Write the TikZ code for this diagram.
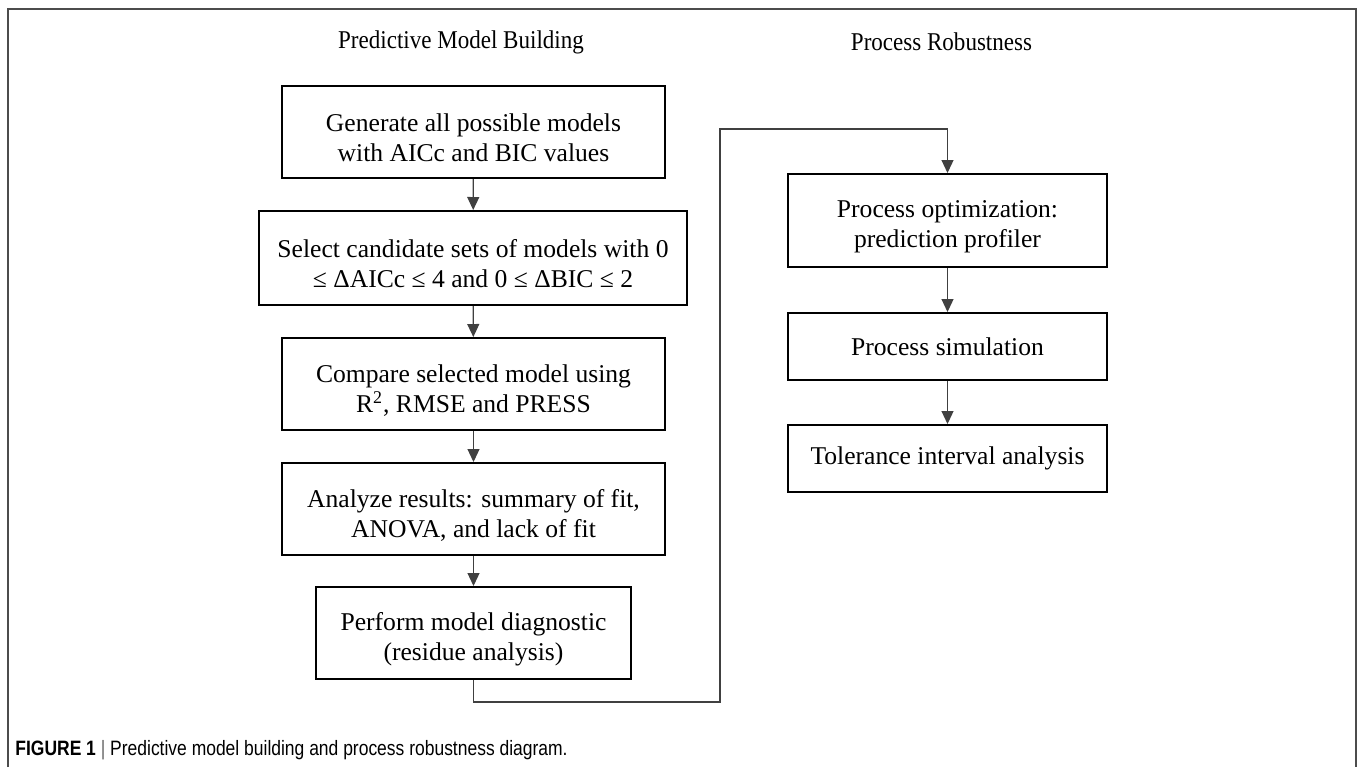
\documentclass[tikz,border=0pt]{standalone}
\usepackage{fontspec}
\setmainfont{Liberation Serif}
\newfontfamily\headfont[FakeStretch=0.9]{Liberation Serif}
\newfontfamily\capfont[FakeStretch=0.84]{Liberation Sans}
\usetikzlibrary{arrows.meta,positioning}
% pushes a two-line text a little down inside its box
\newcommand{\lowstrut}{\rule{0pt}{15pt}}

\begin{document}
\begin{tikzpicture}[x=0.5pt,y=-0.5pt,
  stepbox/.style={draw,line width=1pt,align=center,inner sep=0pt,
    font=\fontsize{12.8}{15}\selectfont},
  link/.style={draw=black!75,line width=0.6pt,-{Triangle[length=6.5pt,width=6pt]}},
  heading/.style={font=\headfont\fontsize{12.8}{15}\selectfont}]

\useasboundingbox (0,0) rectangle (1358,767);
% outer frame, open at the bottom
\draw[black!70,line width=1pt] (8,767) -- (8,9) -- (1356,9) -- (1356,767);

\node[heading] (headleft) at (461,42) {Predictive Model Building};
\node[heading] (headright) at (941.5,42) {Process Robustness};

% predictive model building
\node[stepbox,minimum width=191.5pt,minimum height=46pt] (gen) at (473.5,132)
  {\lowstrut Generate all possible models\\with AICc and BIC values};
\node[stepbox,minimum width=214pt,minimum height=47pt] (sel) at (473,258)
  {\lowstrut Select candidate sets of models with 0\\≤ ΔAICc ≤ 4 and 0 ≤ ΔBIC ≤ 2};
\node[stepbox,minimum width=191.5pt,minimum height=46pt] (cmp) at (473.5,384)
  {\lowstrut Compare selected model using\\R\textsuperscript{2}, RMSE and PRESS};
\node[stepbox,minimum width=191.5pt,minimum height=46pt] (ana) at (473.5,509)
  {\lowstrut Analyze results: summary of fit,\\ANOVA, and lack of fit};
\node[stepbox,minimum width=157.5pt,minimum height=46pt] (diag) at (473.5,633)
  {\lowstrut Perform model diagnostic\\(residue analysis)};

% process robustness
\node[stepbox,minimum width=159.5pt,minimum height=46.5pt] (opt) at (947.5,220.5)
  {\lowstrut Process optimization:\\prediction profiler};
\node[stepbox,minimum width=159.5pt,minimum height=33.5pt] (sim) at (947.5,346.5)
  {Process simulation};
\node[stepbox,minimum width=159.5pt,minimum height=33.5pt] (tol) at (947.5,458.5)
  {Tolerance interval analysis};

\draw[link] (gen) -- (sel);
\draw[link] (sel) -- (cmp);
\draw[link] (cmp) -- (ana);
\draw[link] (ana) -- (diag);

\coordinate (turnlow) at (720,702);
\coordinate (turnhigh) at (720,129);
\draw[link] (diag.south) |- (turnlow) -- (turnhigh) -| (opt.north);

\draw[link] (opt) -- (sim);
\draw[link] (sim) -- (tol);

\node[anchor=west,inner sep=0pt,font=\capfont\fontsize{10.4}{12}\selectfont] (caption) at (15,750)
  {\textbf{FIGURE 1} \textcolor{black!60}{|} Predictive model building and process robustness diagram.};

\end{tikzpicture}
\end{document}
